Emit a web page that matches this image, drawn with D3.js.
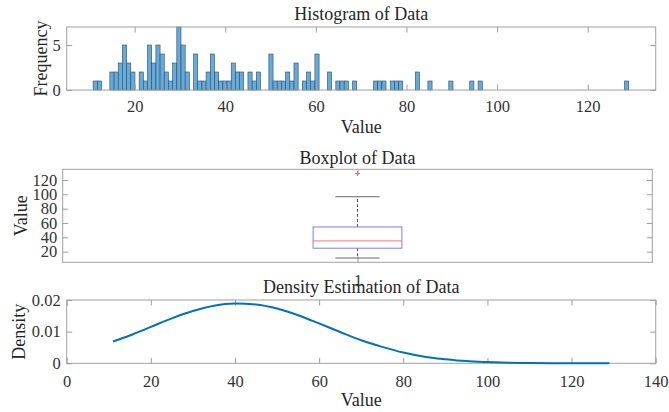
<!DOCTYPE html>
<html>
<head>
  <title>Data summary</title>
  <script src="https://d3js.org/d3.v7.min.js"></script>
  <style>
    body { margin: 0; background: #fff; }
    text { font-family: "Liberation Serif", "Times New Roman", serif; fill: #262626; }
    .frame { fill: none; stroke: #a0a0a0; stroke-width: 1; }
    .tick line { stroke: #a0a0a0; }
    .domain { stroke: none; }
    .tick text { font-size: 16.5px; fill: #333; }
    .title, .label { font-size: 18px; }
  </style>
</head>
<body>
<svg id="chart" width="669" height="412"></svg>
<script>
// histogram: counts per bin, bins start at binStart and are binWidth wide
const binStart = 10.83;
const binWidth = 0.9236;
const binCounts = [
  1,1,0,0,2,2,3,5,3,2,
  0,2,1,5,3,5,4,2,1,3,
  7,5,2,0,4,1,1,2,4,2,
  1,1,1,3,2,2,0,2,1,2,
  0,0,4,1,1,1,2,1,3,0,
  1,2,1,4,0,0,2,0,1,1,
  1,0,1,0,0,0,0,1,1,1,
  0,1,1,1,0,0,0,2,0,0,
  1,0,0,0,0,1,0,0,0,0,
  1,0,1,0,0,0,0,0,0,0,
  0,0,0,0,0,0,0,0,0,0,
  0,0,0,0,0,0,0,0,0,0,
  0,0,0,0,0,0,0,1
];
const histXTicks = [20, 40, 60, 80, 100, 120];
const histYTicks = [0, 5];

// boxplot: [q1, median, q3], whiskers, outliers
const boxQuartiles = [24.8, 35, 54.4];
const boxWhiskers = [11.1, 96.6];
const boxOutliers = [129];
const boxYTicks = [20, 40, 60, 80, 100, 120];

// density estimate
const densityX = [11, 15, 20, 25, 30, 35, 40, 45, 50, 55, 60, 65, 70, 75, 80, 85, 90, 95, 100, 105, 110, 115, 120, 129];
const densityY = [0.0069, 0.0088, 0.0115, 0.0142, 0.0165, 0.0182, 0.0189, 0.0186, 0.0173, 0.0152, 0.0126, 0.0099,
                  0.0073, 0.0052, 0.0034, 0.0021, 0.0013, 0.0007, 0.0004, 0.0002, 0.0001, 0.00003, 0.00001, 0];
const densityXTicks = [0, 20, 40, 60, 80, 100, 120, 140];
const densityYTicks = [0, 0.01, 0.02];

const svg = d3.select("#chart");
const tickLen = 5.5;
const serif = '"Liberation Serif", "Times New Roman", serif';

// draws the frame + mirrored inward ticks of a MATLAB style axes box
function axesBox(g, x, y, w, h, xTicks, yTicks, xFmt, yFmt, xPad, yPad) {
  g.append("g").attr("transform", `translate(0,${h})`)
    .call(d3.axisBottom(x).tickValues(xTicks).tickSize(-tickLen).tickPadding(xPad).tickFormat(xFmt));
  g.append("g")
    .call(d3.axisTop(x).tickValues(xTicks).tickSize(-tickLen).tickFormat(""));
  g.append("g")
    .call(d3.axisLeft(y).tickValues(yTicks).tickSize(-tickLen).tickPadding(yPad).tickFormat(yFmt));
  g.append("g").attr("transform", `translate(${w},0)`)
    .call(d3.axisRight(y).tickValues(yTicks).tickSize(-tickLen).tickFormat(""));
  g.selectAll(".tick text").style("font-family", serif);
  g.append("rect").attr("class", "frame").attr("width", w).attr("height", h);
}

// ---------- histogram ----------
{
  const left = 66.7, top = 27, w = 589, h = 63;
  const g = svg.append("g").attr("transform", `translate(${left},${top})`);
  const x = d3.scaleLinear().domain([5, 135]).range([0, w]);
  const y = d3.scaleLinear().domain([0, 7]).range([h, 0]);

  binCounts.forEach((c, i) => {
    if (c === 0) return;
    const x0 = binStart + i * binWidth;
    g.append("rect")
      .attr("x", x(x0))
      .attr("y", y(c))
      .attr("width", x(x0 + binWidth) - x(x0))
      .attr("height", y(0) - y(c))
      .attr("fill", "#66aad7")
      .attr("stroke", "#2b4d6b")
      .attr("stroke-width", 0.6);
  });

  axesBox(g, x, y, w, h, histXTicks, histYTicks, d3.format("d"), d3.format("d"), 9.8, 6);

  g.append("text").attr("class", "title").attr("x", w / 2).attr("y", -7)
    .attr("text-anchor", "middle").text("Histogram of Data");
  g.append("text").attr("class", "label").attr("x", w / 2).attr("y", 106.3)
    .attr("text-anchor", "middle").text("Value");
  g.append("text").attr("class", "label")
    .attr("transform", `translate(${47 - left},${h / 2}) rotate(-90)`)
    .attr("text-anchor", "middle").text("Frequency");
}

// ---------- boxplot ----------
{
  const left = 62.7, top = 169.3, w = 589.6, h = 93;
  const g = svg.append("g").attr("transform", `translate(${left},${top})`);
  const x = d3.scaleLinear().domain([0.5, 1.5]).range([0, w]);
  const y = d3.scaleLinear().domain([5.1, 134.9]).range([h, 0]);
  const boxHalf = 0.0753, capHalf = 0.0375;

  axesBox(g, x, y, w, h, [1], boxYTicks, d3.format("d"), d3.format("d"), 11.5, 5.4);

  // whiskers
  g.append("line").attr("x1", x(1)).attr("x2", x(1))
    .attr("y1", y(boxQuartiles[2])).attr("y2", y(boxWhiskers[1]))
    .attr("stroke", "#555").attr("stroke-dasharray", "3,2");
  g.append("line").attr("x1", x(1)).attr("x2", x(1))
    .attr("y1", y(boxQuartiles[0])).attr("y2", y(boxWhiskers[0]))
    .attr("stroke", "#555").attr("stroke-dasharray", "3,2");
  boxWhiskers.forEach(v => {
    g.append("line").attr("x1", x(1 - capHalf)).attr("x2", x(1 + capHalf))
      .attr("y1", y(v)).attr("y2", y(v)).attr("stroke", "#666");
  });
  // box
  g.append("rect")
    .attr("x", x(1 - boxHalf)).attr("width", x(1 + boxHalf) - x(1 - boxHalf))
    .attr("y", y(boxQuartiles[2])).attr("height", y(boxQuartiles[0]) - y(boxQuartiles[2]))
    .attr("fill", "none").attr("stroke", "#7a7aff");
  g.append("line").attr("x1", x(1 - boxHalf)).attr("x2", x(1 + boxHalf))
    .attr("y1", y(boxQuartiles[1])).attr("y2", y(boxQuartiles[1]))
    .attr("stroke", "#ff7070");
  boxOutliers.forEach(v => {
    g.append("path").attr("transform", `translate(${x(1)},${y(v)})`)
      .attr("d", "M-2.5,0H2.5M0,-2.5V2.5").attr("stroke", "#ff6060").attr("fill", "none");
  });

  g.append("text").attr("class", "title").attr("x", w / 2).attr("y", -5.3)
    .attr("text-anchor", "middle").text("Boxplot of Data");
  g.append("text").attr("class", "label")
    .attr("transform", `translate(${26.5 - left},${h / 2}) rotate(-90)`)
    .attr("text-anchor", "middle").text("Value");
}

// ---------- density ----------
{
  const left = 66.7, top = 300, w = 589, h = 63.3;
  const g = svg.append("g").attr("transform", `translate(${left},${top})`);
  const x = d3.scaleLinear().domain([0, 140]).range([0, w]);
  const y = d3.scaleLinear().domain([0, 0.02]).range([h, 0]);

  axesBox(g, x, y, w, h, densityXTicks, densityYTicks, d3.format("d"), d => d === 0 ? "0" : d3.format(".2f")(d), 11.5, 6);

  const line = d3.line()
    .x((d, i) => x(densityX[i]))
    .y(d => y(d))
    .curve(d3.curveMonotoneX);
  g.append("path").datum(densityY)
    .attr("d", line)
    .attr("fill", "none")
    .attr("stroke", "#0072bd")
    .attr("stroke-width", 2);

  g.append("text").attr("class", "title").attr("x", w / 2).attr("y", -6.7)
    .attr("text-anchor", "middle").text("Density Estimation of Data");
  g.append("text").attr("class", "label").attr("x", w / 2).attr("y", 106)
    .attr("text-anchor", "middle").text("Value");
  g.append("text").attr("class", "label")
    .attr("transform", `translate(${25 - left},${h / 2}) rotate(-90)`)
    .attr("text-anchor", "middle").text("Density");
}
</script>
</body>
</html>
